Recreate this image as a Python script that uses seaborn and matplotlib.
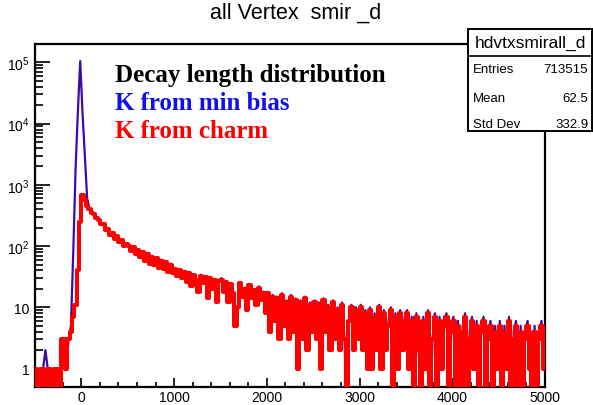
import numpy as np
import pandas as pd
import matplotlib
matplotlib.use("Agg")
import matplotlib.pyplot as plt
import seaborn as sns
from matplotlib.patches import Rectangle
from matplotlib.lines import Line2D
from matplotlib.ticker import FixedLocator, FixedFormatter, MultipleLocator, LogLocator, NullFormatter

sns.set_theme(style="white")
plt.rcParams["font.family"] = ["Liberation Sans", "DejaVu Sans"]
plt.rcParams["mathtext.fontset"] = "custom"
plt.rcParams["mathtext.rm"] = "Liberation Sans"
plt.rcParams["mathtext.it"] = "Liberation Sans"
plt.rcParams["mathtext.bf"] = "Liberation Sans:bold"

# ---------------- data ----------------
bin_lo, bin_hi, bin_width = -500, 5000, 25

charm_head = [1, 0, 1, 1, 0, 1, 1, 0, 1, 1, 0, 3, 3, 1, 3, 4, 7, 11, 40, 250, 680, 560, 460]
charm_a = [400, 350, 330, 285, 270, 232, 228, 182, 190, 150, 165, 132, 145, 115, 125, 100, 110]
charm_b = [102, 84, 96, 75, 88, 66, 80, 58, 74, 52, 66, 50, 63, 44, 58, 42, 55, 38, 50, 36]
charm_c = [42, 33, 40, 30, 38, 26, 36, 22, 34, 28, 18, 33, 25, 31, 14, 30, 20, 28, 12, 27]
charm_d = [28, 18, 26, 12, 24, 17, 5, 10, 25, 15, 20, 9, 23, 14, 19, 11, 21, 13, 17, 8]
charm_e = [17, 4, 15, 6, 14, 3, 16, 5, 12, 3, 15, 4, 13, 1, 12, 3, 14, 2, 11, 4]
charm_f = [12, 3, 11, 1, 13, 4, 10, 2, 12, 3, 9, 2, 11, 3, 0, 6, 10, 2, 9, 3]
charm_g = [10, 2, 8, 1, 9, 1, 7, 2, 10, 1, 8, 2, 5, 9, 0, 7, 1, 8, 2, 6]
charm_h = [8, 1, 6, 0, 7, 2, 0, 6, 1, 8, 0, 3, 7, 0, 6, 1, 5, 7, 0, 4]
charm_i = [6, 0, 5, 0, 4, 7, 0, 3, 6, 1, 5, 0, 4, 6, 0, 3, 5, 0, 4, 1]
charm_j = [5, 0, 4, 1, 6, 0, 3, 5, 0, 4, 0, 3, 5, 1, 0, 4, 0, 3, 5, 1]

minbias_head = [1, 0, 1, 1, 2, 1, 1, 0, 1, 1, 0, 3, 3, 1, 3, 5, 80, 1800, 16000, 105000, 15000, 3000, 600]
minbias_a = [410, 352, 335, 285, 272, 235, 228, 185, 190, 152, 165, 134, 145, 117, 125, 102, 110]
minbias_b = [104, 84, 97, 75, 89, 66, 81, 58, 76, 52, 67, 50, 64, 44, 60, 42, 56, 38, 52, 36]
minbias_c = [44, 33, 41, 30, 39, 26, 37, 22, 35, 28, 18, 34, 25, 32, 14, 31, 20, 29, 12, 28]
minbias_d = [30, 18, 27, 12, 25, 17, 5, 10, 26, 15, 21, 9, 24, 14, 20, 11, 22, 13, 18, 8]
minbias_e = [18, 4, 16, 6, 15, 3, 17, 5, 13, 3, 16, 4, 14, 1, 13, 3, 15, 2, 12, 4]
minbias_f = [13, 3, 12, 1, 14, 4, 11, 2, 13, 3, 10, 2, 12, 3, 0, 7, 11, 2, 10, 3]
minbias_g = [11, 2, 9, 1, 10, 1, 8, 2, 11, 1, 9, 2, 6, 10, 0, 8, 1, 9, 2, 7]
minbias_h = [9, 1, 7, 0, 8, 2, 0, 7, 1, 9, 0, 3, 8, 0, 7, 1, 6, 8, 0, 5]
minbias_i = [7, 0, 6, 0, 5, 8, 0, 4, 7, 1, 6, 0, 5, 7, 0, 4, 6, 0, 5, 1]
minbias_j = [6, 0, 5, 1, 7, 0, 4, 6, 0, 5, 0, 4, 6, 1, 0, 5, 0, 4, 6, 1]

x_ticks = [0, 1000, 2000, 3000, 4000, 5000]
x_tick_labels = ["0", "1000", "2000", "3000", "4000", "5000"]
y_ticks = [1, 10, 100, 1000, 10000, 100000]
y_tick_labels = ["1", "10", r"$\mathregular{10^{2}}$", r"$\mathregular{10^{3}}$",
                 r"$\mathregular{10^{4}}$", r"$\mathregular{10^{5}}$"]

title = "all Vertex  smir _d"
legend_lines = ["Decay length distribution", "K from min bias", "K from charm"]
stats_name = "hdvtxsmirall_d"
stats_rows = [("Entries", "713515"), ("Mean", "62.5"), ("Std Dev", "332.9")]

# ---------------- assemble ----------------
charm = np.array(charm_head + charm_a + charm_b + charm_c + charm_d + charm_e
                 + charm_f + charm_g + charm_h + charm_i + charm_j, dtype=float)
minbias = np.array(minbias_head + minbias_a + minbias_b + minbias_c + minbias_d + minbias_e
                   + minbias_f + minbias_g + minbias_h + minbias_i + minbias_j, dtype=float)
centers = np.arange(bin_lo + bin_width / 2, bin_hi, bin_width)

# empty bins fall below the log axis
floor = 0.2
df_mb = pd.DataFrame({"x": centers, "y": np.where(minbias > 0, minbias, floor)})
df_ch = pd.DataFrame({"x": centers, "y": np.where(charm > 0, charm, floor)})

W, H = 593, 406
fig = plt.figure(figsize=(W / 100, H / 100), dpi=100)
fig.patch.set_facecolor("white")
ax_l, ax_r, ax_t, ax_b = 35, 545, 45, 388
ax = fig.add_axes([ax_l / W, (H - ax_b) / H, (ax_r - ax_l) / W, (ax_b - ax_t) / H])
ax.set_facecolor("white")

sns.lineplot(data=df_mb, x="x", y="y", ax=ax, color="#3a0aa8", linewidth=1.6,
             estimator=None, sort=False, zorder=2)
sns.lineplot(data=df_ch, x="x", y="y", ax=ax, color="#ff0000", linewidth=2.9,
             estimator=None, sort=False, drawstyle="steps-mid", zorder=3)

ax.set_yscale("log")
ax.set_xlim(bin_lo, bin_hi)
ax.set_ylim(0.5, 2.0e5)
ax.set_xlabel("")
ax.set_ylabel("")

ax.xaxis.set_major_locator(FixedLocator(x_ticks))
ax.xaxis.set_major_formatter(FixedFormatter(x_tick_labels))
ax.xaxis.set_minor_locator(MultipleLocator(200))
ax.yaxis.set_major_locator(FixedLocator(y_ticks))
ax.yaxis.set_major_formatter(FixedFormatter(y_tick_labels))
ax.yaxis.set_minor_locator(LogLocator(base=10, subs=tuple(range(2, 10)), numticks=20))
ax.yaxis.set_minor_formatter(NullFormatter())

ax.tick_params(axis="x", which="major", direction="in", length=6.5, width=1.2,
               labelsize=10, pad=2.5, top=False, bottom=True, colors="black")
ax.tick_params(axis="x", which="minor", direction="in", length=3.6, width=1.2,
               top=False, bottom=True, colors="black")
ax.tick_params(axis="y", which="major", direction="in", length=10.8, width=1.2,
               labelsize=10, pad=4, left=True, right=False, colors="black")
ax.tick_params(axis="y", which="minor", direction="in", length=5.8, width=1.2,
               left=True, right=False, colors="black")
for s in ax.spines.values():
    s.set_visible(True)
    s.set_color("black")
    s.set_linewidth(1.6)

# title
fig.text(296 / W, 1 - 13 / H, title, ha="center", va="center", fontsize=15.5, color="black")

# legend-like texts
leg_colors = ["black", "#1010e8", "#ff0000"]
leg_base = [82.3, 109.5, 137.5]
for txt, c, yb in zip(legend_lines, leg_colors, leg_base):
    fig.text(115 / W, 1 - yb / H, txt, ha="left", va="baseline", color=c,
             fontsize=18, fontweight="bold", family=["Liberation Serif", "DejaVu Serif"])

# stats box
bx0, bx1, by0, by1 = 468.3, 591.7, 30, 132.3
fig.add_artist(Rectangle((bx0 / W, 1 - by1 / H), (bx1 - bx0) / W, (by1 - by0) / H,
                         transform=fig.transFigure, facecolor="white", edgecolor="black",
                         linewidth=1.4, zorder=5))
sep_y = 56.5
fig.add_artist(Line2D([bx0 / W, bx1 / W], [1 - sep_y / H, 1 - sep_y / H],
                      transform=fig.transFigure, color="black", linewidth=1.2, zorder=6))
fig.text((bx0 + bx1) / 2 / W, 1 - 48.3 / H, stats_name, ha="center", va="baseline",
         fontsize=12.5, color="black", zorder=7)
row_base = [73.3, 101.7, 128.3]
for (lab, val), yb in zip(stats_rows, row_base):
    fig.text(473.3 / W, 1 - yb / H, lab, ha="left", va="baseline", fontsize=9.5,
             color="black", zorder=7)
    fig.text(588.3 / W, 1 - yb / H, val, ha="right", va="baseline", fontsize=9.5,
             color="black", zorder=7)

fig.savefig("out.png", dpi=100, facecolor="white")
